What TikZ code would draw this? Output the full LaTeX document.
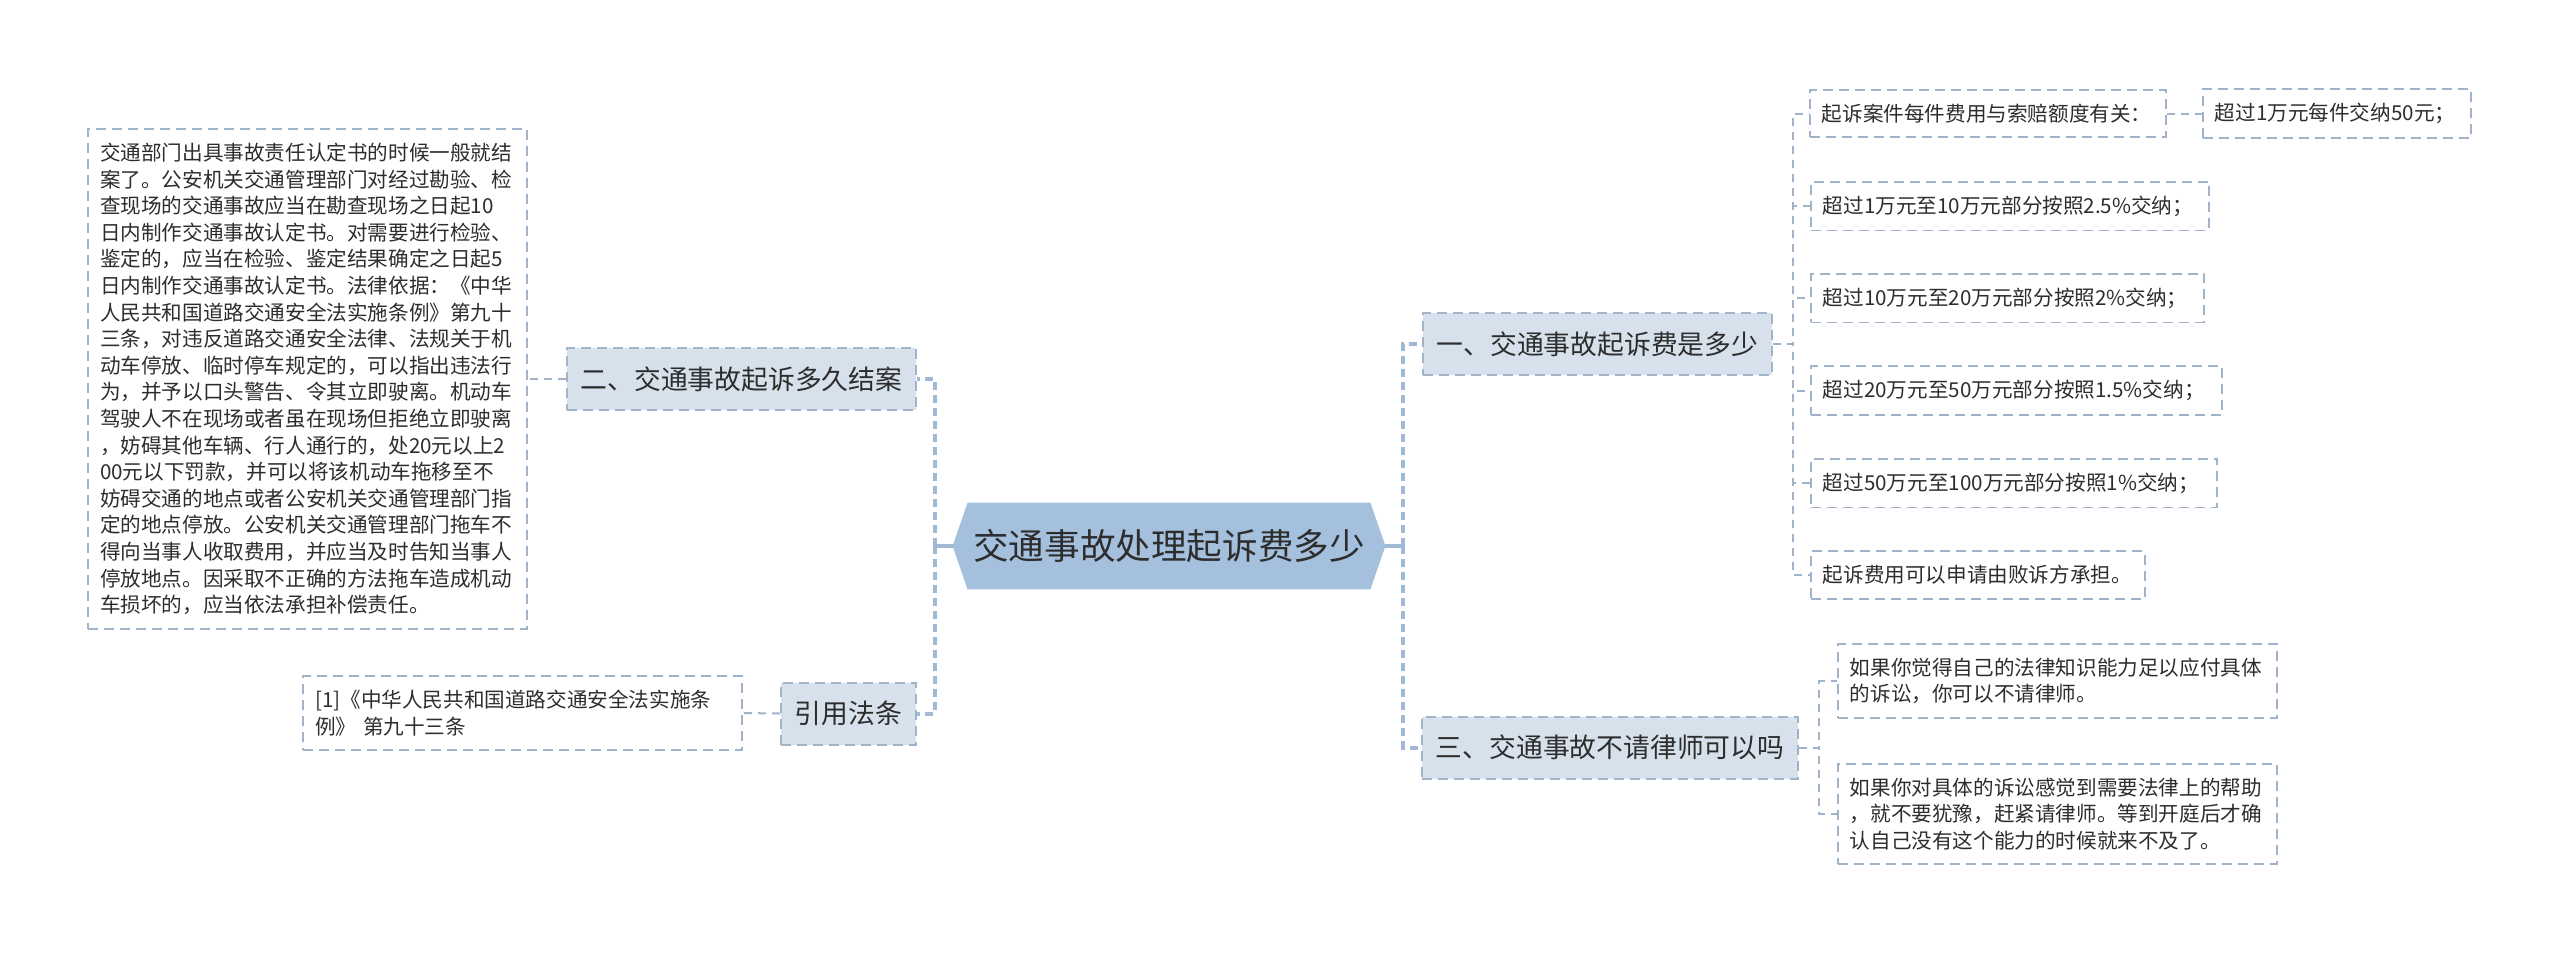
\documentclass[tikz,border=0pt]{standalone}
\usepackage{fontspec}
\setmainfont{Noto Sans CJK SC}
\usepackage{xcolor}
\usepackage{tikz}
\usetikzlibrary{calc, backgrounds}
\definecolor{MapRoot}{RGB}{164, 192, 221}
\definecolor{MapPale}{RGB}{214, 225, 235}
\definecolor{MapEdge}{RGB}{160, 179, 200}
\definecolor{MapLine}{RGB}{160, 186, 213}
\definecolor{MapInk}{RGB}{45, 45, 45}

\tikzset{
  rootbox/.style={minimum width=216pt, minimum height=43pt, inner sep=0pt,
    text=MapInk, font=\fontsize{17.8}{21}\selectfont},
  topic/.style={draw=MapEdge, fill=MapPale, line width=1pt, dash pattern=on 5pt off 3pt,
    minimum height=31pt, inner sep=0pt, text=MapInk, font=\fontsize{13.4}{16}\selectfont},
  leaf/.style={draw=MapEdge, fill=white, line width=0.9pt, dash pattern=on 5pt off 3pt,
    align=left, inner xsep=6pt, inner ysep=7pt, text=MapInk, font=\fontsize{10.3}{13.3}\selectfont},
  trunk/.style={MapLine, line width=2pt, dash pattern=on 4pt off 2.5pt},
  twig/.style={MapEdge, line width=1pt, dash pattern=on 4pt off 3pt},
}

\begin{document}
\begin{tikzpicture}[x=0.5pt,y=-0.5pt]
  \path[use as bounding box] (0,0) rectangle (2560,955);

  % centre
  \node[rootbox] (root) at (1169,546) {交通事故处理起诉费多少};
  \begin{scope}[on background layer]
    \fill[white] (0,0) rectangle (2560,955);
    \fill[MapRoot] (root.west) -- ($(root.north west)+(15,0)$) -- ($(root.north east)+(-15,0)$)
      -- (root.east) -- ($(root.south east)+(-15,0)$) -- ($(root.south west)+(15,0)$) -- cycle;
  \end{scope}

  % main topics
  \node[topic, minimum width=174.5pt] (n1) at (1597.5,344) {一、交通事故起诉费是多少};
  \node[topic, minimum width=174.5pt] (n2) at (741.5,379) {二、交通事故起诉多久结案};
  \node[topic, minimum width=188pt] (n3) at (1610,747.5) {三、交通事故不请律师可以吗};
  \node[topic, minimum width=67.5pt] (nref) at (848.5,713.5) {引用法条};

  % left side
  \node[leaf, text width=207.5pt, anchor=east] (txt) at (528,379) {交通部门出具事故责任认定书的时候一般就结\\
    案了。公安机关交通管理部门对经过勘验、检\\
    查现场的交通事故应当在勘查现场之日起10\\
    日内制作交通事故认定书。对需要进行检验、\\
    鉴定的，应当在检验、鉴定结果确定之日起5\\
    日内制作交通事故认定书。法律依据：《中华\\
    人民共和国道路交通安全法实施条例》第九十\\
    三条，对违反道路交通安全法律、法规关于机\\
    动车停放、临时停车规定的，可以指出违法行\\
    为，并予以口头警告、令其立即驶离。机动车\\
    驾驶人不在现场或者虽在现场但拒绝立即驶离\\
    ，妨碍其他车辆、行人通行的，处20元以上2\\
    00元以下罚款，并可以将该机动车拖移至不\\
    妨碍交通的地点或者公安机关交通管理部门指\\
    定的地点停放。公安机关交通管理部门拖车不\\
    得向当事人收取费用，并应当及时告知当事人\\
    停放地点。因采取不正确的方法拖车造成机动\\
    车损坏的，应当依法承担补偿责任。};
  \node[leaf, text width=207.5pt, anchor=east] (ref1) at (743,713) {[1]《中华人民共和国道路交通安全法实施条\\例》 第九十三条};

  % right side, first topic
  \node[leaf, text width=166pt, anchor=west] (leaf1) at (1809,113.5) {起诉案件每件费用与索赔额度有关：};
  \node[leaf, text width=122pt, anchor=west] (leaf1b) at (2202,113.5) {超过1万元每件交纳50元；};
  \node[leaf, text width=187pt, anchor=west] (leaf2) at (1810,206) {超过1万元至10万元部分按照2.5\%交纳；};
  \node[leaf, text width=184.5pt, anchor=west] (leaf3) at (1810,298) {超过10万元至20万元部分按照2\%交纳；};
  \node[leaf, text width=193.5pt, anchor=west] (leaf4) at (1810,390.5) {超过20万元至50万元部分按照1.5\%交纳；};
  \node[leaf, text width=191pt, anchor=west] (leaf5) at (1810,483) {超过50万元至100万元部分按照1\%交纳；};
  \node[leaf, text width=155pt, anchor=west] (leaf6) at (1810,575) {起诉费用可以申请由败诉方承担。};

  % right side, third topic
  \node[leaf, text width=207.5pt, anchor=west] (leaf7) at (1837,681) {如果你觉得自己的法律知识能力足以应付具体\\的诉讼，你可以不请律师。};
  \node[leaf, text width=207.5pt, anchor=west] (leaf8) at (1837,814) {如果你对具体的诉讼感觉到需要法律上的帮助\\，就不要犹豫，赶紧请律师。等到开庭后才确\\认自己没有这个能力的时候就来不及了。};

  % connectors
  \draw[MapLine, line width=1.6pt] (root.east) -- ++(18,0) coordinate (rj);
  \draw[MapLine, line width=1.6pt] (root.west) -- ++(-18,0) coordinate (lj);
  \foreach \t in {n1,n3}{
    \draw[trunk] (rj) |- (\t.west);
  }
  \foreach \t in {n2,nref}{
    \draw[trunk] (lj) |- (\t.east);
  }
  \foreach \c in {leaf1,leaf2,leaf3,leaf4,leaf5,leaf6}{
    \draw[twig] (n1.east) -- ++(20,0) |- (\c.west);
  }
  \foreach \c in {leaf7,leaf8}{
    \draw[twig] (n3.east) -- ++(20,0) |- (\c.west);
  }
  \draw[twig] (n2.west) -- (txt.east);
  \draw[twig] (nref.west) -- (ref1.east);
  \draw[twig] (leaf1.east) -- (leaf1b.west);
\end{tikzpicture}
\end{document}
